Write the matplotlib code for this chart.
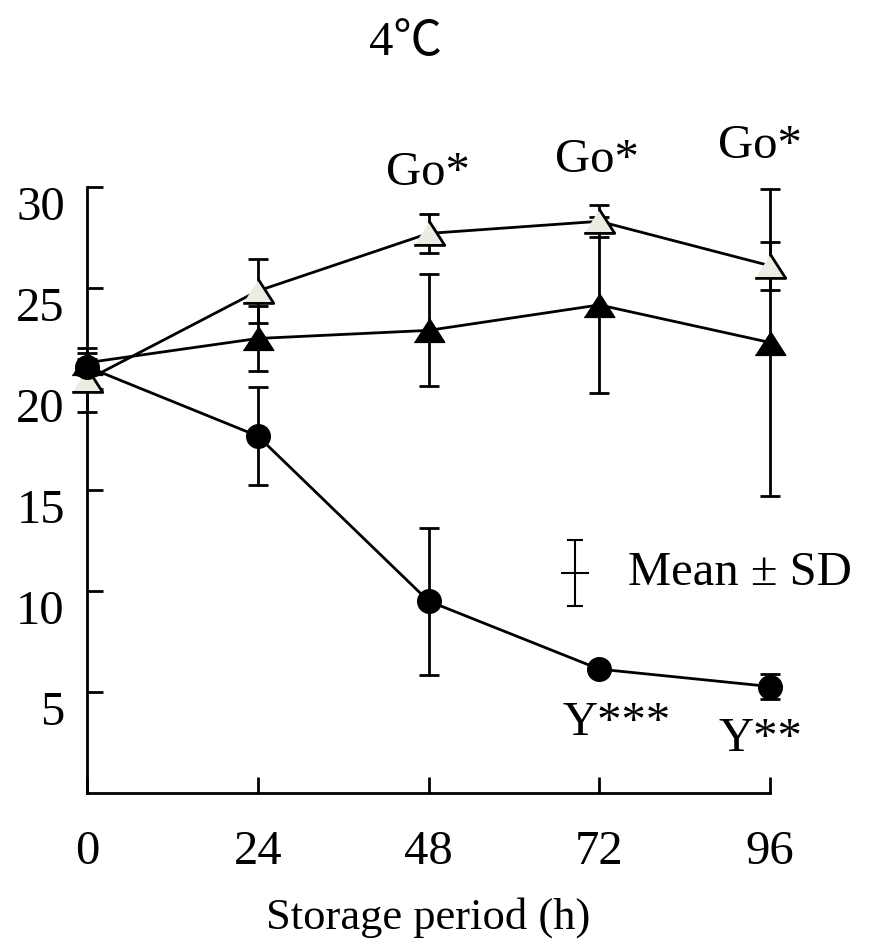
import matplotlib
matplotlib.use("Agg")
import matplotlib.pyplot as plt
from matplotlib.transforms import ScaledTranslation

plt.rcParams["font.family"] = ["Liberation Serif", "Noto Sans CJK JP"]

hours = [0, 24, 48, 72, 96]

# open triangles
open_mean = [20.45, 24.85, 27.7, 28.3, 26.1]
open_sd = [1.6, 1.6, 0.97, 0.8, 1.2]
# filled triangles
tri_mean = [21.3, 22.5, 22.9, 24.16, 22.3]
tri_sd = [0.5, 1.6, 2.77, 4.36, 7.6]
# filled circles
circ_mean = [21.1, 17.67, 9.5, 6.13, 5.27]
circ_sd = [0.4, 2.43, 3.64, 0.3, 0.62]

notes = ["Go*", "Go*", "Go*", "Y***", "Y**"]
note_x = [47.9, 71.7, 94.6, 74.5, 94.6]
note_y = [30.7, 31.35, 32.05, 3.45, 2.65]

FS = 35
tri = [(-1, -0.78), (1, -0.78), (0, 0.78)]

fig = plt.figure(figsize=(8.71, 9.5), dpi=100)
ax = fig.add_axes([0.0999, 0.1653, 0.7842, 0.6379])

eb = dict(ecolor="black", elinewidth=2, capsize=7, capthick=2, color="black",
          lw=2, clip_on=False)
ax.errorbar(hours, tri_mean, yerr=tri_sd, marker=tri, ms=22, mfc="black", mec="black",
            zorder=3, **eb)
ax.errorbar(hours, open_mean, yerr=open_sd, marker=tri, ms=22, mfc="#EDECE2", mec="black",
            mew=2, zorder=4, **eb)
ax.errorbar(hours, circ_mean, yerr=circ_sd, marker="o", ms=17, mfc="black", mec="black",
            zorder=5, **eb)

for t, x, y in zip(notes, note_x, note_y):
    ax.text(x, y, t, fontsize=FS, ha="center", va="center", clip_on=False)

# Mean ± SD key
ax.errorbar([68.6], [10.9], yerr=[1.63], fmt="none", ecolor="black", elinewidth=1.5,
            capsize=6, capthick=1.5)
ax.plot([68.6], [10.9], marker="_", ms=20, mew=1.5, color="black")
ax.text(76.0, 10.9, "Mean ± SD", fontsize=FS, ha="left", va="center")

ax.set_xlim(0, 96)
ax.set_ylim(0, 30)
ax.set_xticks(hours)
ax.set_yticks([5, 10, 15, 20, 25, 30])
for s in ["top", "right"]:
    ax.spines[s].set_visible(False)
for s in ["left", "bottom"]:
    ax.spines[s].set_linewidth(2)
ax.tick_params(direction="in", length=11.5, width=2, labelsize=FS)
ax.tick_params(axis="x", pad=27)
ax.tick_params(axis="y", pad=16)

off = ScaledTranslation(0, -0.16, fig.dpi_scale_trans)
for lab in ax.get_yticklabels():
    lab.set_transform(lab.get_transform() + off)

ax.set_xlabel("Storage period (h)", fontsize=32, labelpad=16)
ax.set_title("4℃", fontsize=FS, x=0.466, pad=95)

fig.savefig("out.png", dpi=100)
